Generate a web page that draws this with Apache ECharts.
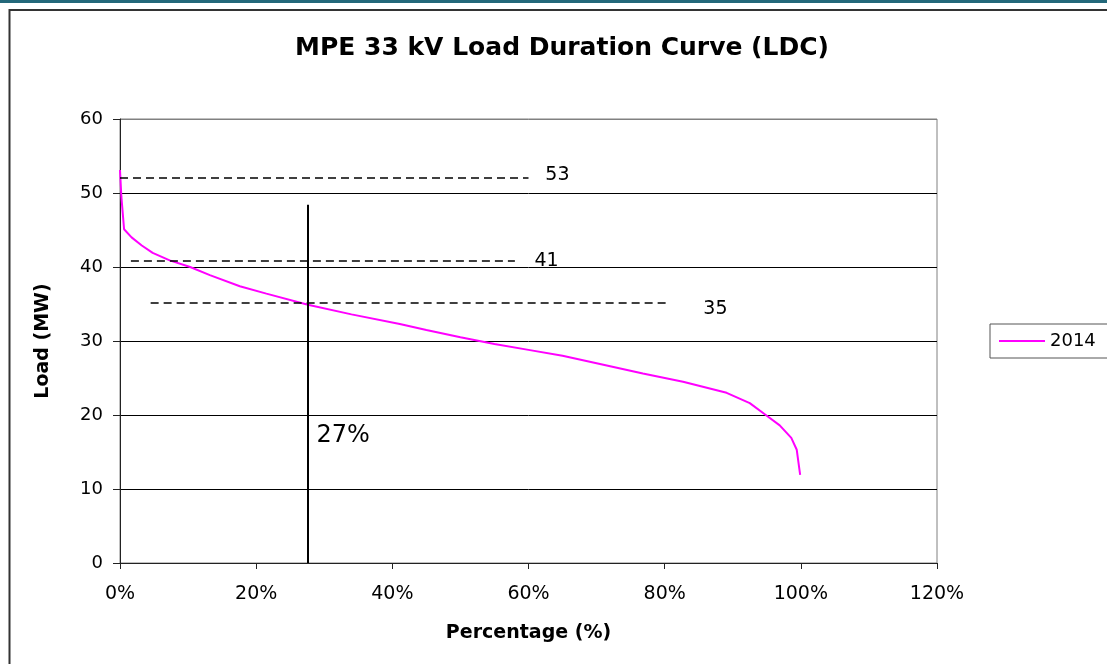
<!DOCTYPE html>
<html><head><meta charset="utf-8">
<script src="https://cdn.jsdelivr.net/npm/echarts@6/dist/echarts.min.js"></script>
<style>html,body{margin:0;padding:0;background:#fff}#c{width:1107px;height:664px}</style>
</head><body><div id="c"></div>
<script>
// Load duration curve 2014: percentage of time (%) vs load (MW)
const pct  = [0, 0.2, 0.6, 1.7, 3.2, 4.8, 7.3, 10.3, 13.2, 17.6, 21.5, 27.6, 34, 41.1, 45, 50, 55, 60, 65, 70.5, 76.8, 82.7, 89.1, 92.5, 95, 96.9, 98.6, 99.4, 99.9];
const load = [53.1, 49.5, 45.1, 44.0, 42.9, 41.9, 40.9, 40.0, 38.9, 37.4, 36.4, 34.9, 33.6, 32.3, 31.5, 30.5, 29.6, 28.8, 28.0, 26.9, 25.6, 24.5, 23.0, 21.6, 19.9, 18.6, 16.9, 15.3, 11.9];
const seriesName = '2014';

// dashed reference lines (load level, start %, end %)
const refValues = [52, 40.8, 35.2];
const refStarts = [0, 1.6, 4.5];
const refEnds   = [60, 58, 80.3];

// vertical marker
const vlineX = 27.6;
const vlineTop = 48.4;

// annotation texts and their anchor points (%, MW)
const noteTexts = ['53', '41', '35', '27%'];
const noteX = [62.4, 60.8, 85.6, 28.8];
const noteY = [52.4, 40.8, 34.3, 17.2];

const xMin = 0, xMax = 120, xStep = 20;
const yMin = 0, yMax = 60, yStep = 10;

const FONT = '"DejaVu Sans", "Liberation Sans", Arial, sans-serif';

const chart = echarts.init(document.getElementById('c'), null, {renderer: 'canvas'});

const markLines = refValues.map((v, i) => [
  {coord: [refStarts[i], v], lineStyle: {type: [8, 5], width: 1.5, color: '#000'}},
  {coord: [refEnds[i], v]}
]);
markLines.push([
  {coord: [vlineX, 0], lineStyle: {type: 'solid', width: 2, color: '#000'}},
  {coord: [vlineX, vlineTop]}
]);

const markPoints = noteTexts.map((t, i) => ({
  coord: [noteX[i], noteY[i]],
  label: {
    show: true, formatter: t, position: 'right', distance: 0,
    color: '#000', fontFamily: FONT, fontSize: t === '27%' ? 24 : 19
  }
}));

const option = {
  animation: false,
  backgroundColor: '#fff',
  title: {
    text: 'MPE 33 kV Load Duration Curve (LDC)',
    left: 557, top: 31, textAlign: 'center',
    textStyle: {fontFamily: FONT, fontWeight: 'bold', fontSize: 25, color: '#000'}
  },
  legend: {
    data: [seriesName],
    left: 990, top: 324,
    orient: 'vertical',
    icon: 'rect', itemWidth: 46, itemHeight: 2,
    padding: [8, 200, 8, 9],
    borderColor: '#555', borderWidth: 1,
    textStyle: {fontFamily: FONT, fontSize: 18, color: '#000'}
  },
  grid: {
    left: 120, top: 119, right: 170, bottom: 101,
    show: true, borderColor: '#808080', borderWidth: 1, backgroundColor: 'transparent'
  },
  xAxis: {
    type: 'value', min: xMin, max: xMax, interval: xStep,
    name: 'Percentage (%)', nameLocation: 'middle', nameGap: 61,
    nameTextStyle: {fontFamily: FONT, fontWeight: 'bold', fontSize: 19, color: '#000'},
    axisLine: {show: true, onZero: false, lineStyle: {color: '#222', width: 1}},
    axisTick: {show: true, length: 6, lineStyle: {color: '#222'}},
    axisLabel: {formatter: '{value}%', margin: 22, fontFamily: FONT, fontSize: 19, color: '#000'},
    splitLine: {show: false}
  },
  yAxis: {
    type: 'value', min: yMin, max: yMax, interval: yStep,
    name: 'Load (MW)', nameLocation: 'middle', nameGap: 67, nameRotate: 90,
    nameTextStyle: {fontFamily: FONT, fontWeight: 'bold', fontSize: 19, color: '#000'},
    axisLine: {show: true, lineStyle: {color: '#222', width: 1}},
    axisTick: {show: true, length: 7, lineStyle: {color: '#222'}},
    axisLabel: {margin: 17, fontFamily: FONT, fontSize: 18, color: '#000'},
    splitLine: {show: true, lineStyle: {color: ['#000', '#000', '#000', '#000', '#000', '#000', '#808080'], width: 1}}
  },
  graphic: [
    {type: 'rect', shape: {x: 0, y: 0, width: 1107, height: 3}, style: {fill: '#23687a'}, silent: true},
    {type: 'rect', shape: {x: 9.5, y: 10, width: 1300, height: 800}, style: {fill: 'none', stroke: '#333', lineWidth: 2}, silent: true}
  ],
  series: [{
    name: seriesName,
    type: 'line',
    data: pct.map((p, i) => [p, load[i]]),
    showSymbol: false,
    symbol: 'none',
    lineStyle: {color: '#ff00ff', width: 2},
    itemStyle: {color: '#ff00ff'},
    markLine: {silent: true, symbol: ['none', 'none'], label: {show: false}, data: markLines},
    markPoint: {
      silent: true, symbol: 'circle', symbolSize: 1,
      itemStyle: {color: 'rgba(0,0,0,0)'},
      data: markPoints
    }
  }]
};
chart.setOption(option);
</script>
</body></html>
